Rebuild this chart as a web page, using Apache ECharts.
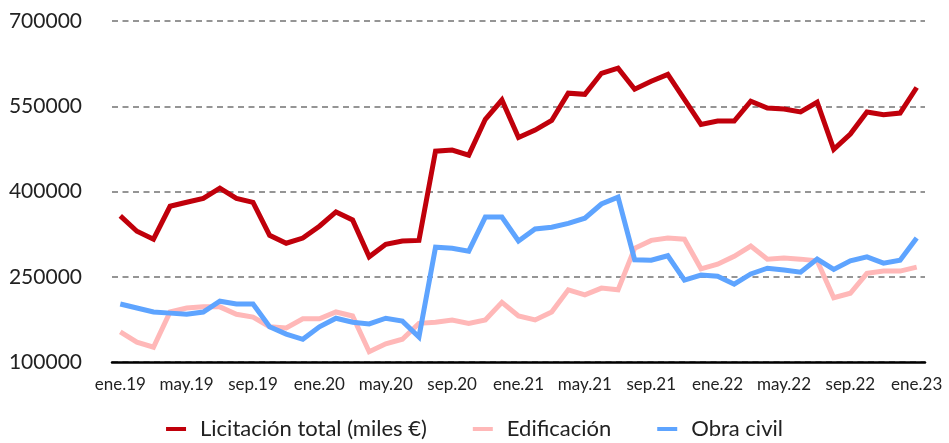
<!DOCTYPE html>
<html>
<head>
<meta charset="utf-8">
<script src="https://cdn.jsdelivr.net/npm/echarts@6/dist/echarts.min.js"></script>
<style>
  html, body { margin: 0; padding: 0; background: #fff; }
  #chart { width: 949px; height: 443px; }
</style>
</head>
<body>
<div id="chart"></div>
<script>
// Monthly categories, ene.19 … ene.23
const monthNames = ['ene', 'feb', 'mar', 'abr', 'may', 'jun', 'jul', 'ago', 'sep', 'oct', 'nov', 'dic'];
const years = ['19', '20', '21', '22', '23'];
const categories = [];
years.forEach(function (y) {
  monthNames.forEach(function (m) { categories.push(m + '.' + y); });
});
categories.length = 49;

// Licitación total (miles €)
const licitacionTotal = [
  357000, 330000, 316000, 374000, 381000, 388000, 406000, 388000, 381000, 323000,
  309000, 318000, 339000, 364000, 350000, 285000, 307000, 313000, 314000, 471000,
  473000, 464000, 527000, 561000, 495000, 508000, 525000, 573000, 571000, 608000,
  617000, 580000, 594000, 606000, 562000, 518000, 524000, 524000, 559000, 547000,
  545000, 540000, 557000, 474000, 501000, 540000, 535000, 538000, 583000
];

// Edificación
const edificacion = [
  153000, 135000, 126000, 188000, 195000, 197000, 197000, 184000, 179000, 162000,
  160000, 176000, 176000, 188000, 181000, 118000, 132000, 140000, 168000, 170000,
  174000, 168000, 174000, 205000, 181000, 174000, 188000, 227000, 218000, 230000,
  227000, 300000, 314000, 318000, 316000, 264000, 272000, 286000, 304000, 281000,
  283000, 281000, 278000, 213000, 221000, 256000, 260000, 260000, 267000
];

// Obra civil
const obraCivil = [
  202000, 195000, 188000, 186000, 184000, 188000, 207000, 202000, 202000, 162000,
  149000, 140000, 162000, 177000, 170000, 167000, 177000, 172000, 144000, 302000,
  300000, 295000, 355000, 355000, 313000, 334000, 337000, 344000, 353000, 378000,
  390000, 280000, 279000, 287000, 244000, 253000, 251000, 237000, 255000, 265000,
  262000, 258000, 281000, 263000, 278000, 285000, 274000, 279000, 318000
];

const yTicks = { min: 100000, max: 700000, step: 150000 };

const chart = echarts.init(document.getElementById('chart'), null, { renderer: 'canvas' });

function lineSeries(name, data, color) {
  return {
    name: name,
    type: 'line',
    data: data,
    symbol: 'none',
    smooth: false,
    lineStyle: { color: color, width: 5, join: 'miter' },
    itemStyle: { color: color },
    z: 3
  };
}

chart.setOption({
  animation: false,
  grid: { left: 112, right: 24, top: 21, bottom: 81, containLabel: false },
  legend: {
    top: 413,
    left: 'center',
    icon: 'rect',
    itemWidth: 20,
    itemHeight: 4,
    itemGap: 46,
    textStyle: { fontFamily: 'Lato, "Noto Sans", sans-serif', fontSize: 22, color: '#222', padding: [0, 0, 0, 9] },
    data: ['Licitación total (miles €)', 'Edificación', 'Obra civil']
  },
  xAxis: {
    type: 'category',
    data: categories,
    boundaryGap: true,
    axisLine: { show: true, lineStyle: { color: '#000', width: 2.5 } },
    axisTick: { show: false },
    axisLabel: {
      interval: 3,
      margin: 14,
      color: '#222',
      fontSize: 17,
      fontFamily: 'Lato, "Noto Sans", sans-serif'
    },
    splitLine: { show: false }
  },
  yAxis: {
    type: 'value',
    min: yTicks.min,
    max: yTicks.max,
    interval: yTicks.step,
    axisLine: { show: false },
    axisTick: { show: false },
    axisLabel: {
      margin: 30,
      color: '#222',
      fontSize: 21,
      fontFamily: 'Lato, "Noto Sans", sans-serif',
      formatter: function (v) { return String(v); }
    },
    splitLine: {
      show: true,
      lineStyle: { color: '#959595', width: 2, type: [6, 4.5] }
    }
  },
  series: [
    lineSeries('Licitación total (miles €)', licitacionTotal, '#C0000B'),
    lineSeries('Edificación', edificacion, '#FFB8B8'),
    lineSeries('Obra civil', obraCivil, '#5EA4FF')
  ]
});
</script>
</body>
</html>
